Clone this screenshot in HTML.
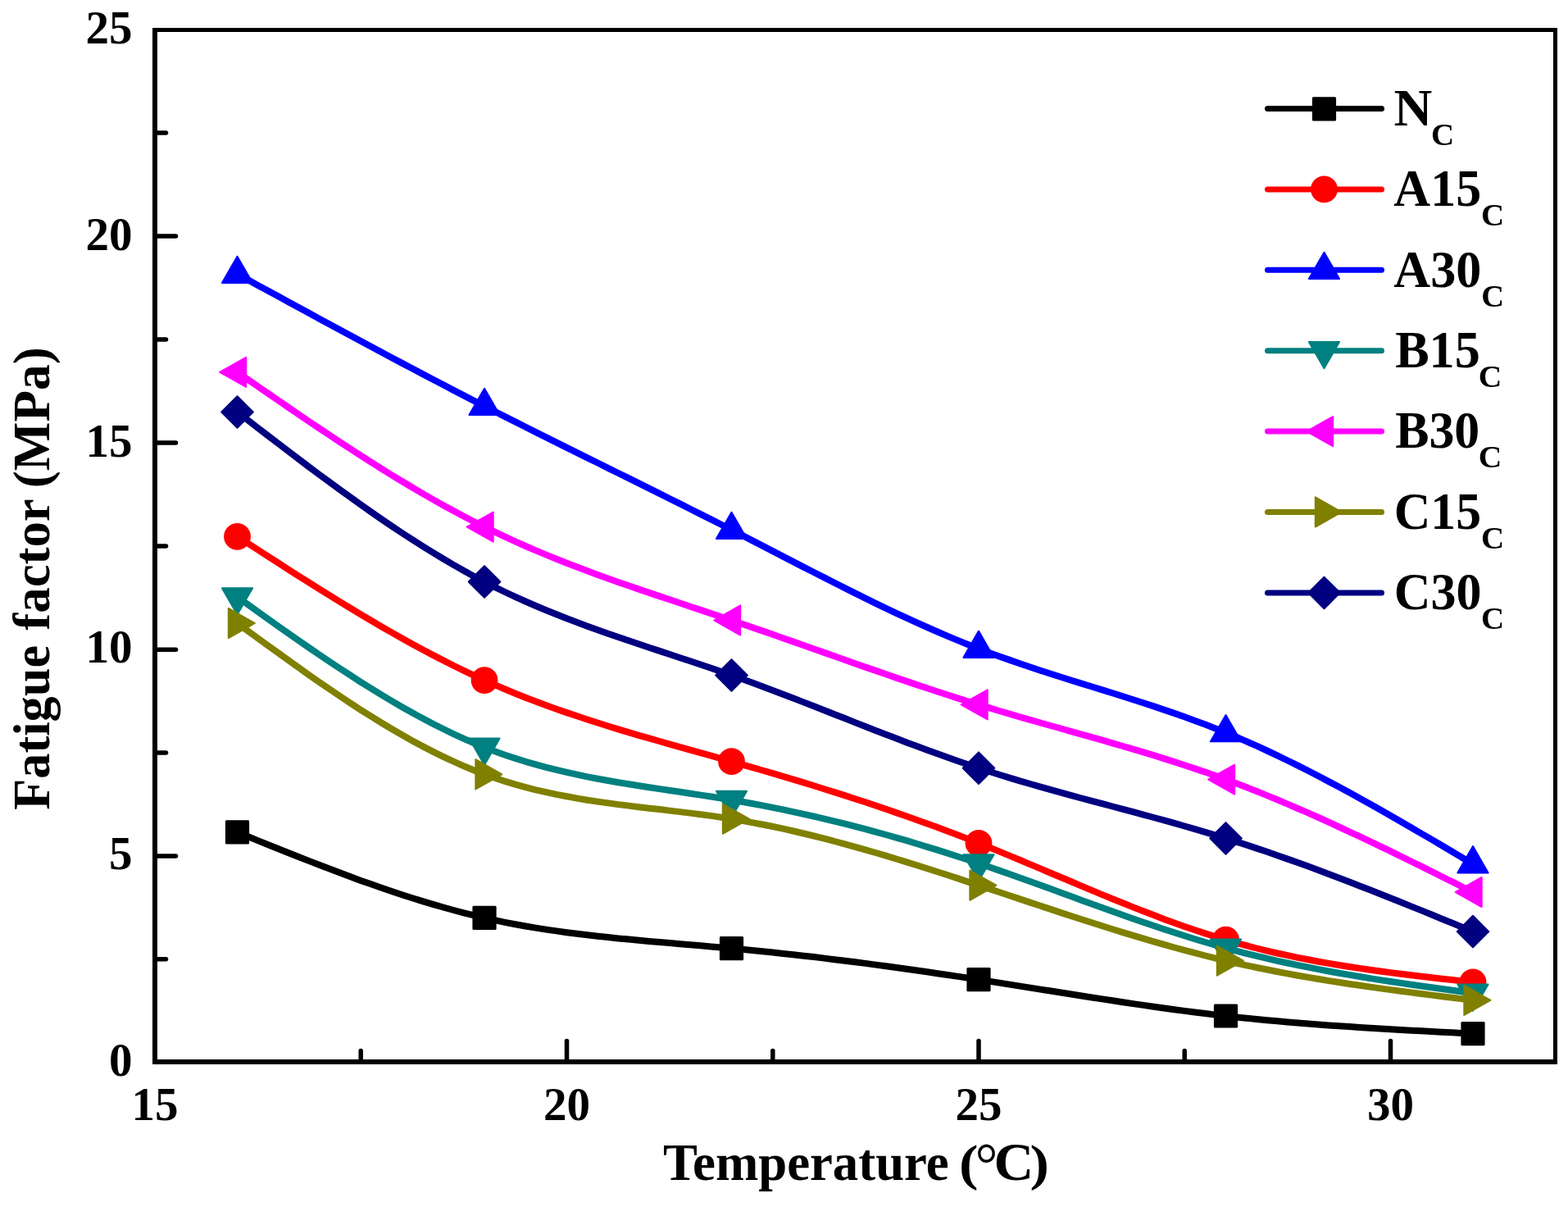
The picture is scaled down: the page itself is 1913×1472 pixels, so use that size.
<!DOCTYPE html>
<html lang="en"><head><meta charset="utf-8"><title>Fatigue factor vs Temperature</title>
<style>
html,body{margin:0;padding:0;background:#fff;}
body{width:1913px;height:1472px;overflow:hidden;}
svg{display:block;}
text{font-family:"Liberation Serif",serif;font-weight:bold;fill:#000;}
.tk{font-size:57px;}
.ti{font-size:64px;}
.lg{font-size:64px;}
.sub{font-size:38px;}
</style></head><body>
<svg width="1913" height="1472" viewBox="0 0 1913 1472">
<rect x="0" y="0" width="1913" height="1472" fill="#ffffff"/>

<g fill="none" stroke-linecap="round" stroke-linejoin="round">
<g><path d="M289.5 1014.9 L302.1 1020.0 L314.6 1025.1 L327.2 1030.2 L339.8 1035.2 L352.3 1040.2 L364.9 1045.2 L377.4 1050.1 L390.0 1055.0 L402.6 1059.8 L415.1 1064.6 L427.7 1069.3 L440.2 1073.9 L452.8 1078.3 L465.4 1082.7 L477.9 1087.0 L490.5 1091.2 L503.1 1095.2 L515.6 1099.1 L528.2 1102.9 L540.8 1106.5 L553.3 1110.0 L565.9 1113.3 L578.4 1116.4 L591.0 1119.4 L603.6 1122.2 L616.1 1124.8 L628.7 1127.2 L641.2 1129.5 L653.8 1131.6 L666.4 1133.6 L678.9 1135.4 L691.5 1137.2 L704.1 1138.8 L716.6 1140.3 L729.2 1141.8 L741.8 1143.1 L754.3 1144.4 L766.9 1145.6 L779.4 1146.8 L792.0 1147.9 L804.6 1149.0 L817.1 1150.1 L829.7 1151.2 L842.2 1152.2 L854.8 1153.3 L867.4 1154.4 L879.9 1155.5 L892.5 1156.6 L905.1 1157.8 L917.6 1159.0 L930.2 1160.3 L942.8 1161.6 L955.3 1162.9 L967.9 1164.3 L980.4 1165.7 L993.0 1167.1 L1005.6 1168.6 L1018.1 1170.2 L1030.7 1171.7 L1043.2 1173.3 L1055.8 1174.9 L1068.4 1176.6 L1080.9 1178.3 L1093.5 1180.0 L1106.1 1181.7 L1118.6 1183.5 L1131.2 1185.3 L1143.8 1187.2 L1156.3 1189.0 L1168.9 1190.9 L1181.4 1192.8 L1194.0 1194.7 L1206.6 1196.6 L1219.1 1198.6 L1231.7 1200.6 L1244.2 1202.6 L1256.8 1204.6 L1269.4 1206.6 L1281.9 1208.5 L1294.5 1210.5 L1307.1 1212.5 L1319.6 1214.5 L1332.2 1216.5 L1344.8 1218.4 L1357.3 1220.3 L1369.9 1222.2 L1382.4 1224.1 L1395.0 1225.9 L1407.6 1227.7 L1420.1 1229.5 L1432.7 1231.2 L1445.2 1232.9 L1457.8 1234.5 L1470.4 1236.0 L1482.9 1237.6 L1495.5 1239.0 L1508.1 1240.4 L1520.6 1241.7 L1533.2 1243.0 L1545.8 1244.2 L1558.3 1245.3 L1570.9 1246.4 L1583.4 1247.5 L1596.0 1248.5 L1608.6 1249.5 L1621.1 1250.4 L1633.7 1251.3 L1646.2 1252.1 L1658.8 1252.9 L1671.4 1253.7 L1683.9 1254.5 L1696.5 1255.2 L1709.1 1256.0 L1721.6 1256.7 L1734.2 1257.3 L1746.8 1258.0 L1759.3 1258.7 L1771.9 1259.3 L1784.4 1260.0 L1797.0 1260.6" stroke="#000000" stroke-width="8.0" fill="none"/>
<rect x="274.9" y="1000.3" width="29.2" height="29.2" rx="1.5" fill="#000000"/>
<rect x="576.4" y="1104.8" width="29.2" height="29.2" rx="1.5" fill="#000000"/>
<rect x="877.9" y="1142.0" width="29.2" height="29.2" rx="1.5" fill="#000000"/>
<rect x="1179.4" y="1180.1" width="29.2" height="29.2" rx="1.5" fill="#000000"/>
<rect x="1480.9" y="1224.4" width="29.2" height="29.2" rx="1.5" fill="#000000"/>
<rect x="1782.4" y="1246.0" width="29.2" height="29.2" rx="1.5" fill="#000000"/>
</g>
<g><path d="M289.5 654.3 L302.1 662.4 L314.6 670.5 L327.2 678.6 L339.8 686.7 L352.3 694.8 L364.9 702.8 L377.4 710.7 L390.0 718.6 L402.6 726.4 L415.1 734.2 L427.7 741.8 L440.2 749.4 L452.8 756.8 L465.4 764.2 L477.9 771.4 L490.5 778.5 L503.1 785.5 L515.6 792.3 L528.2 798.9 L540.8 805.4 L553.3 811.7 L565.9 817.9 L578.4 823.8 L591.0 829.6 L603.6 835.2 L616.1 840.5 L628.7 845.7 L641.2 850.7 L653.8 855.5 L666.4 860.2 L678.9 864.7 L691.5 869.1 L704.1 873.3 L716.6 877.5 L729.2 881.5 L741.8 885.5 L754.3 889.3 L766.9 893.1 L779.4 896.8 L792.0 900.4 L804.6 904.0 L817.1 907.6 L829.7 911.1 L842.2 914.6 L854.8 918.1 L867.4 921.6 L879.9 925.2 L892.5 928.7 L905.1 932.3 L917.6 935.9 L930.2 939.5 L942.8 943.2 L955.3 946.9 L967.9 950.6 L980.4 954.4 L993.0 958.3 L1005.6 962.2 L1018.1 966.1 L1030.7 970.1 L1043.2 974.2 L1055.8 978.3 L1068.4 982.5 L1080.9 986.8 L1093.5 991.1 L1106.1 995.5 L1118.6 999.9 L1131.2 1004.4 L1143.8 1009.1 L1156.3 1013.7 L1168.9 1018.5 L1181.4 1023.4 L1194.0 1028.3 L1206.6 1033.3 L1219.1 1038.4 L1231.7 1043.6 L1244.2 1048.8 L1256.8 1054.1 L1269.4 1059.4 L1281.9 1064.7 L1294.5 1070.0 L1307.1 1075.3 L1319.6 1080.6 L1332.2 1085.9 L1344.8 1091.1 L1357.3 1096.2 L1369.9 1101.3 L1382.4 1106.4 L1395.0 1111.3 L1407.6 1116.1 L1420.1 1120.9 L1432.7 1125.5 L1445.2 1129.9 L1457.8 1134.3 L1470.4 1138.4 L1482.9 1142.4 L1495.5 1146.2 L1508.1 1149.8 L1520.6 1153.2 L1533.2 1156.5 L1545.8 1159.6 L1558.3 1162.5 L1570.9 1165.2 L1583.4 1167.9 L1596.0 1170.3 L1608.6 1172.7 L1621.1 1174.9 L1633.7 1177.0 L1646.2 1179.0 L1658.8 1180.9 L1671.4 1182.7 L1683.9 1184.5 L1696.5 1186.1 L1709.1 1187.7 L1721.6 1189.3 L1734.2 1190.8 L1746.8 1192.2 L1759.3 1193.7 L1771.9 1195.0 L1784.4 1196.4 L1797.0 1197.8" stroke="#ff0000" stroke-width="8.0" fill="none"/>
<circle cx="289.5" cy="654.3" r="16.4" fill="#ff0000"/>
<circle cx="591.0" cy="829.6" r="16.4" fill="#ff0000"/>
<circle cx="892.5" cy="928.7" r="16.4" fill="#ff0000"/>
<circle cx="1194.0" cy="1028.3" r="16.4" fill="#ff0000"/>
<circle cx="1495.5" cy="1146.2" r="16.4" fill="#ff0000"/>
<circle cx="1797.0" cy="1197.8" r="16.4" fill="#ff0000"/>
</g>
<g><path d="M289.5 334.2 L302.1 341.1 L314.6 347.9 L327.2 354.8 L339.8 361.6 L352.3 368.4 L364.9 375.3 L377.4 382.1 L390.0 388.9 L402.6 395.7 L415.1 402.5 L427.7 409.3 L440.2 416.0 L452.8 422.8 L465.4 429.5 L477.9 436.2 L490.5 442.9 L503.1 449.5 L515.6 456.1 L528.2 462.7 L540.8 469.3 L553.3 475.9 L565.9 482.4 L578.4 488.9 L591.0 495.3 L603.6 501.7 L616.1 508.1 L628.7 514.4 L641.2 520.8 L653.8 527.1 L666.4 533.3 L678.9 539.6 L691.5 545.9 L704.1 552.1 L716.6 558.3 L729.2 564.5 L741.8 570.8 L754.3 577.0 L766.9 583.2 L779.4 589.4 L792.0 595.7 L804.6 601.9 L817.1 608.2 L829.7 614.4 L842.2 620.7 L854.8 627.1 L867.4 633.4 L879.9 639.8 L892.5 646.2 L905.1 652.6 L917.6 659.1 L930.2 665.6 L942.8 672.1 L955.3 678.6 L967.9 685.1 L980.4 691.6 L993.0 698.0 L1005.6 704.4 L1018.1 710.8 L1030.7 717.1 L1043.2 723.4 L1055.8 729.6 L1068.4 735.8 L1080.9 741.8 L1093.5 747.8 L1106.1 753.6 L1118.6 759.4 L1131.2 765.0 L1143.8 770.5 L1156.3 775.9 L1168.9 781.1 L1181.4 786.2 L1194.0 791.1 L1206.6 795.9 L1219.1 800.5 L1231.7 804.9 L1244.2 809.3 L1256.8 813.5 L1269.4 817.7 L1281.9 821.7 L1294.5 825.7 L1307.1 829.7 L1319.6 833.6 L1332.2 837.5 L1344.8 841.4 L1357.3 845.3 L1369.9 849.3 L1382.4 853.3 L1395.0 857.3 L1407.6 861.4 L1420.1 865.6 L1432.7 869.9 L1445.2 874.3 L1457.8 878.9 L1470.4 883.6 L1482.9 888.5 L1495.5 893.5 L1508.1 898.7 L1520.6 904.1 L1533.2 909.7 L1545.8 915.5 L1558.3 921.4 L1570.9 927.5 L1583.4 933.7 L1596.0 940.0 L1608.6 946.5 L1621.1 953.1 L1633.7 959.8 L1646.2 966.6 L1658.8 973.5 L1671.4 980.5 L1683.9 987.6 L1696.5 994.8 L1709.1 1002.0 L1721.6 1009.3 L1734.2 1016.6 L1746.8 1023.9 L1759.3 1031.3 L1771.9 1038.7 L1784.4 1046.2 L1797.0 1053.6" stroke="#0000ff" stroke-width="8.0" fill="none"/>
<polygon points="289.5,312.7 270.9,345.0 308.1,345.0" fill="#0000ff" stroke="#0000ff" stroke-width="2" stroke-linejoin="round"/>
<polygon points="591.0,473.8 572.4,506.1 609.6,506.1" fill="#0000ff" stroke="#0000ff" stroke-width="2" stroke-linejoin="round"/>
<polygon points="892.5,624.7 873.9,657.0 911.1,657.0" fill="#0000ff" stroke="#0000ff" stroke-width="2" stroke-linejoin="round"/>
<polygon points="1194.0,769.6 1175.4,801.9 1212.6,801.9" fill="#0000ff" stroke="#0000ff" stroke-width="2" stroke-linejoin="round"/>
<polygon points="1495.5,872.0 1476.9,904.3 1514.1,904.3" fill="#0000ff" stroke="#0000ff" stroke-width="2" stroke-linejoin="round"/>
<polygon points="1797.0,1032.1 1778.4,1064.4 1815.6,1064.4" fill="#0000ff" stroke="#0000ff" stroke-width="2" stroke-linejoin="round"/>
</g>
<g><path d="M289.5 728.1 L302.1 737.1 L314.6 746.0 L327.2 755.0 L339.8 763.9 L352.3 772.7 L364.9 781.5 L377.4 790.1 L390.0 798.7 L402.6 807.2 L415.1 815.5 L427.7 823.7 L440.2 831.8 L452.8 839.7 L465.4 847.4 L477.9 854.9 L490.5 862.2 L503.1 869.3 L515.6 876.1 L528.2 882.7 L540.8 889.0 L553.3 895.1 L565.9 900.8 L578.4 906.3 L591.0 911.4 L603.6 916.2 L616.1 920.7 L628.7 924.9 L641.2 928.8 L653.8 932.4 L666.4 935.8 L678.9 938.9 L691.5 941.9 L704.1 944.7 L716.6 947.3 L729.2 949.7 L741.8 952.0 L754.3 954.2 L766.9 956.3 L779.4 958.3 L792.0 960.2 L804.6 962.1 L817.1 964.0 L829.7 965.8 L842.2 967.7 L854.8 969.6 L867.4 971.5 L879.9 973.5 L892.5 975.6 L905.1 977.8 L917.6 980.0 L930.2 982.4 L942.8 984.9 L955.3 987.4 L967.9 990.1 L980.4 992.8 L993.0 995.7 L1005.6 998.6 L1018.1 1001.6 L1030.7 1004.7 L1043.2 1007.9 L1055.8 1011.2 L1068.4 1014.6 L1080.9 1018.0 L1093.5 1021.6 L1106.1 1025.2 L1118.6 1029.0 L1131.2 1032.8 L1143.8 1036.6 L1156.3 1040.6 L1168.9 1044.7 L1181.4 1048.8 L1194.0 1053.0 L1206.6 1057.3 L1219.1 1061.6 L1231.7 1066.1 L1244.2 1070.5 L1256.8 1075.0 L1269.4 1079.6 L1281.9 1084.1 L1294.5 1088.7 L1307.1 1093.3 L1319.6 1097.9 L1332.2 1102.4 L1344.8 1107.0 L1357.3 1111.5 L1369.9 1116.0 L1382.4 1120.4 L1395.0 1124.7 L1407.6 1129.0 L1420.1 1133.2 L1432.7 1137.3 L1445.2 1141.3 L1457.8 1145.2 L1470.4 1149.0 L1482.9 1152.7 L1495.5 1156.2 L1508.1 1159.6 L1520.6 1162.8 L1533.2 1165.9 L1545.8 1168.9 L1558.3 1171.8 L1570.9 1174.5 L1583.4 1177.2 L1596.0 1179.7 L1608.6 1182.1 L1621.1 1184.5 L1633.7 1186.7 L1646.2 1188.9 L1658.8 1191.0 L1671.4 1193.1 L1683.9 1195.1 L1696.5 1197.0 L1709.1 1198.9 L1721.6 1200.7 L1734.2 1202.5 L1746.8 1204.3 L1759.3 1206.0 L1771.9 1207.8 L1784.4 1209.5 L1797.0 1211.2" stroke="#008080" stroke-width="8.0" fill="none"/>
<polygon points="289.5,749.6 270.9,717.3 308.1,717.3" fill="#008080" stroke="#008080" stroke-width="2" stroke-linejoin="round"/>
<polygon points="591.0,932.9 572.4,900.6 609.6,900.6" fill="#008080" stroke="#008080" stroke-width="2" stroke-linejoin="round"/>
<polygon points="892.5,997.1 873.9,964.8 911.1,964.8" fill="#008080" stroke="#008080" stroke-width="2" stroke-linejoin="round"/>
<polygon points="1194.0,1074.5 1175.4,1042.2 1212.6,1042.2" fill="#008080" stroke="#008080" stroke-width="2" stroke-linejoin="round"/>
<polygon points="1495.5,1177.7 1476.9,1145.4 1514.1,1145.4" fill="#008080" stroke="#008080" stroke-width="2" stroke-linejoin="round"/>
<polygon points="1797.0,1232.7 1778.4,1200.4 1815.6,1200.4" fill="#008080" stroke="#008080" stroke-width="2" stroke-linejoin="round"/>
</g>
<g><path d="M289.5 453.9 L302.1 462.6 L314.6 471.3 L327.2 479.9 L339.8 488.5 L352.3 497.1 L364.9 505.7 L377.4 514.2 L390.0 522.6 L402.6 531.0 L415.1 539.3 L427.7 547.5 L440.2 555.6 L452.8 563.7 L465.4 571.6 L477.9 579.3 L490.5 587.0 L503.1 594.5 L515.6 601.9 L528.2 609.1 L540.8 616.2 L553.3 623.1 L565.9 629.8 L578.4 636.3 L591.0 642.6 L603.6 648.7 L616.1 654.6 L628.7 660.4 L641.2 666.0 L653.8 671.4 L666.4 676.6 L678.9 681.7 L691.5 686.7 L704.1 691.5 L716.6 696.3 L729.2 700.9 L741.8 705.4 L754.3 709.9 L766.9 714.3 L779.4 718.6 L792.0 722.9 L804.6 727.1 L817.1 731.3 L829.7 735.5 L842.2 739.7 L854.8 743.9 L867.4 748.1 L879.9 752.3 L892.5 756.5 L905.1 760.8 L917.6 765.1 L930.2 769.4 L942.8 773.8 L955.3 778.2 L967.9 782.6 L980.4 787.0 L993.0 791.5 L1005.6 795.9 L1018.1 800.3 L1030.7 804.8 L1043.2 809.2 L1055.8 813.6 L1068.4 817.9 L1080.9 822.3 L1093.5 826.6 L1106.1 830.9 L1118.6 835.1 L1131.2 839.3 L1143.8 843.5 L1156.3 847.5 L1168.9 851.6 L1181.4 855.5 L1194.0 859.4 L1206.6 863.2 L1219.1 867.0 L1231.7 870.6 L1244.2 874.3 L1256.8 877.9 L1269.4 881.5 L1281.9 885.0 L1294.5 888.5 L1307.1 892.1 L1319.6 895.6 L1332.2 899.1 L1344.8 902.7 L1357.3 906.3 L1369.9 910.0 L1382.4 913.7 L1395.0 917.4 L1407.6 921.2 L1420.1 925.1 L1432.7 929.1 L1445.2 933.2 L1457.8 937.4 L1470.4 941.6 L1482.9 946.1 L1495.5 950.6 L1508.1 955.3 L1520.6 960.1 L1533.2 965.0 L1545.8 970.1 L1558.3 975.3 L1570.9 980.6 L1583.4 986.0 L1596.0 991.4 L1608.6 997.0 L1621.1 1002.7 L1633.7 1008.5 L1646.2 1014.3 L1658.8 1020.2 L1671.4 1026.1 L1683.9 1032.2 L1696.5 1038.2 L1709.1 1044.4 L1721.6 1050.5 L1734.2 1056.7 L1746.8 1062.9 L1759.3 1069.2 L1771.9 1075.4 L1784.4 1081.7 L1797.0 1088.0" stroke="#ff00ff" stroke-width="8.0" fill="none"/>
<polygon points="268.1,453.9 300.2,435.8 300.2,472.0" fill="#ff00ff" stroke="#ff00ff" stroke-width="2" stroke-linejoin="round"/>
<polygon points="569.6,642.6 601.7,624.5 601.7,660.7" fill="#ff00ff" stroke="#ff00ff" stroke-width="2" stroke-linejoin="round"/>
<polygon points="871.1,756.5 903.2,738.4 903.2,774.6" fill="#ff00ff" stroke="#ff00ff" stroke-width="2" stroke-linejoin="round"/>
<polygon points="1172.6,859.4 1204.7,841.3 1204.7,877.5" fill="#ff00ff" stroke="#ff00ff" stroke-width="2" stroke-linejoin="round"/>
<polygon points="1474.1,950.6 1506.2,932.5 1506.2,968.7" fill="#ff00ff" stroke="#ff00ff" stroke-width="2" stroke-linejoin="round"/>
<polygon points="1775.6,1088.0 1807.7,1069.9 1807.7,1106.1" fill="#ff00ff" stroke="#ff00ff" stroke-width="2" stroke-linejoin="round"/>
</g>
<g><path d="M289.5 760.0 L302.1 769.2 L314.6 778.4 L327.2 787.5 L339.8 796.6 L352.3 805.6 L364.9 814.6 L377.4 823.4 L390.0 832.2 L402.6 840.8 L415.1 849.3 L427.7 857.6 L440.2 865.8 L452.8 873.7 L465.4 881.5 L477.9 889.0 L490.5 896.3 L503.1 903.4 L515.6 910.1 L528.2 916.6 L540.8 922.8 L553.3 928.7 L565.9 934.3 L578.4 939.5 L591.0 944.3 L603.6 948.8 L616.1 952.9 L628.7 956.7 L641.2 960.1 L653.8 963.3 L666.4 966.2 L678.9 968.9 L691.5 971.3 L704.1 973.6 L716.6 975.7 L729.2 977.6 L741.8 979.4 L754.3 981.1 L766.9 982.6 L779.4 984.2 L792.0 985.7 L804.6 987.1 L817.1 988.6 L829.7 990.1 L842.2 991.6 L854.8 993.2 L867.4 994.9 L879.9 996.7 L892.5 998.7 L905.1 1000.8 L917.6 1003.1 L930.2 1005.5 L942.8 1008.0 L955.3 1010.7 L967.9 1013.5 L980.4 1016.5 L993.0 1019.5 L1005.6 1022.7 L1018.1 1026.0 L1030.7 1029.3 L1043.2 1032.8 L1055.8 1036.4 L1068.4 1040.0 L1080.9 1043.7 L1093.5 1047.5 L1106.1 1051.4 L1118.6 1055.3 L1131.2 1059.3 L1143.8 1063.3 L1156.3 1067.3 L1168.9 1071.4 L1181.4 1075.6 L1194.0 1079.7 L1206.6 1083.9 L1219.1 1088.0 L1231.7 1092.2 L1244.2 1096.4 L1256.8 1100.6 L1269.4 1104.8 L1281.9 1108.9 L1294.5 1113.1 L1307.1 1117.2 L1319.6 1121.2 L1332.2 1125.3 L1344.8 1129.3 L1357.3 1133.2 L1369.9 1137.1 L1382.4 1140.9 L1395.0 1144.7 L1407.6 1148.3 L1420.1 1151.9 L1432.7 1155.5 L1445.2 1158.9 L1457.8 1162.2 L1470.4 1165.5 L1482.9 1168.6 L1495.5 1171.6 L1508.1 1174.5 L1520.6 1177.3 L1533.2 1180.0 L1545.8 1182.5 L1558.3 1185.0 L1570.9 1187.4 L1583.4 1189.7 L1596.0 1191.9 L1608.6 1194.0 L1621.1 1196.1 L1633.7 1198.0 L1646.2 1200.0 L1658.8 1201.8 L1671.4 1203.6 L1683.9 1205.4 L1696.5 1207.1 L1709.1 1208.8 L1721.6 1210.4 L1734.2 1212.0 L1746.8 1213.6 L1759.3 1215.2 L1771.9 1216.7 L1784.4 1218.3 L1797.0 1219.8" stroke="#808000" stroke-width="8.0" fill="none"/>
<polygon points="310.9,760.0 278.8,741.9 278.8,778.1" fill="#808000" stroke="#808000" stroke-width="2" stroke-linejoin="round"/>
<polygon points="612.4,944.3 580.3,926.2 580.3,962.4" fill="#808000" stroke="#808000" stroke-width="2" stroke-linejoin="round"/>
<polygon points="913.9,998.7 881.8,980.6 881.8,1016.8" fill="#808000" stroke="#808000" stroke-width="2" stroke-linejoin="round"/>
<polygon points="1215.4,1079.7 1183.3,1061.6 1183.3,1097.8" fill="#808000" stroke="#808000" stroke-width="2" stroke-linejoin="round"/>
<polygon points="1516.9,1171.6 1484.8,1153.5 1484.8,1189.7" fill="#808000" stroke="#808000" stroke-width="2" stroke-linejoin="round"/>
<polygon points="1818.4,1219.8 1786.3,1201.7 1786.3,1237.9" fill="#808000" stroke="#808000" stroke-width="2" stroke-linejoin="round"/>
</g>
<g><path d="M289.5 502.5 L302.1 512.2 L314.6 521.9 L327.2 531.5 L339.8 541.1 L352.3 550.7 L364.9 560.2 L377.4 569.7 L390.0 579.1 L402.6 588.3 L415.1 597.5 L427.7 606.6 L440.2 615.6 L452.8 624.4 L465.4 633.1 L477.9 641.6 L490.5 650.0 L503.1 658.1 L515.6 666.1 L528.2 673.9 L540.8 681.5 L553.3 688.9 L565.9 696.0 L578.4 702.9 L591.0 709.5 L603.6 715.9 L616.1 722.0 L628.7 727.9 L641.2 733.5 L653.8 739.0 L666.4 744.2 L678.9 749.3 L691.5 754.3 L704.1 759.0 L716.6 763.7 L729.2 768.2 L741.8 772.7 L754.3 777.0 L766.9 781.3 L779.4 785.5 L792.0 789.7 L804.6 793.9 L817.1 798.0 L829.7 802.2 L842.2 806.3 L854.8 810.5 L867.4 814.8 L879.9 819.1 L892.5 823.5 L905.1 828.0 L917.6 832.6 L930.2 837.2 L942.8 841.9 L955.3 846.7 L967.9 851.5 L980.4 856.4 L993.0 861.3 L1005.6 866.2 L1018.1 871.2 L1030.7 876.1 L1043.2 881.1 L1055.8 886.0 L1068.4 890.9 L1080.9 895.7 L1093.5 900.6 L1106.1 905.4 L1118.6 910.1 L1131.2 914.7 L1143.8 919.3 L1156.3 923.8 L1168.9 928.2 L1181.4 932.5 L1194.0 936.7 L1206.6 940.8 L1219.1 944.7 L1231.7 948.6 L1244.2 952.3 L1256.8 956.0 L1269.4 959.6 L1281.9 963.2 L1294.5 966.6 L1307.1 970.1 L1319.6 973.5 L1332.2 976.8 L1344.8 980.2 L1357.3 983.5 L1369.9 986.9 L1382.4 990.2 L1395.0 993.6 L1407.6 997.0 L1420.1 1000.4 L1432.7 1003.9 L1445.2 1007.5 L1457.8 1011.1 L1470.4 1014.8 L1482.9 1018.5 L1495.5 1022.4 L1508.1 1026.4 L1520.6 1030.4 L1533.2 1034.6 L1545.8 1038.8 L1558.3 1043.2 L1570.9 1047.6 L1583.4 1052.1 L1596.0 1056.6 L1608.6 1061.3 L1621.1 1066.0 L1633.7 1070.7 L1646.2 1075.5 L1658.8 1080.4 L1671.4 1085.3 L1683.9 1090.3 L1696.5 1095.3 L1709.1 1100.3 L1721.6 1105.4 L1734.2 1110.4 L1746.8 1115.5 L1759.3 1120.7 L1771.9 1125.8 L1784.4 1131.0 L1797.0 1136.1" stroke="#000080" stroke-width="8.0" fill="none"/>
<polygon points="289.5,483.2 308.8,502.5 289.5,521.8 270.2,502.5" fill="#000080" stroke="#000080" stroke-width="2" stroke-linejoin="round"/>
<polygon points="591.0,690.2 610.3,709.5 591.0,728.8 571.7,709.5" fill="#000080" stroke="#000080" stroke-width="2" stroke-linejoin="round"/>
<polygon points="892.5,804.2 911.8,823.5 892.5,842.8 873.2,823.5" fill="#000080" stroke="#000080" stroke-width="2" stroke-linejoin="round"/>
<polygon points="1194.0,917.4 1213.3,936.7 1194.0,956.0 1174.7,936.7" fill="#000080" stroke="#000080" stroke-width="2" stroke-linejoin="round"/>
<polygon points="1495.5,1003.1 1514.8,1022.4 1495.5,1041.7 1476.2,1022.4" fill="#000080" stroke="#000080" stroke-width="2" stroke-linejoin="round"/>
<polygon points="1797.0,1116.8 1816.3,1136.1 1797.0,1155.4 1777.7,1136.1" fill="#000080" stroke="#000080" stroke-width="2" stroke-linejoin="round"/>
</g>
</g>
<g fill="#000"><rect x="186" y="34" width="6" height="1264"/><rect x="1895" y="34" width="5" height="1264"/><rect x="186" y="34" width="1714" height="5"/><rect x="186" y="1292" width="1714" height="6"/></g>
<g stroke="#000" stroke-width="5.5" stroke-linecap="round">
<line x1="189.0" y1="1044.0" x2="214.5" y2="1044.0"/>
<line x1="189.0" y1="792.2" x2="214.5" y2="792.2"/>
<line x1="189.0" y1="539.9" x2="214.5" y2="539.9"/>
<line x1="189.0" y1="287.9" x2="214.5" y2="287.9"/>
<line x1="189.0" y1="1169.8" x2="202.5" y2="1169.8"/>
<line x1="189.0" y1="918.1" x2="202.5" y2="918.1"/>
<line x1="189.0" y1="666.0" x2="202.5" y2="666.0"/>
<line x1="189.0" y1="413.9" x2="202.5" y2="413.9"/>
<line x1="189.0" y1="162.0" x2="202.5" y2="162.0"/>
<line x1="691.5" y1="1295.0" x2="691.5" y2="1269.5"/>
<line x1="1194.0" y1="1295.0" x2="1194.0" y2="1269.5"/>
<line x1="1696.5" y1="1295.0" x2="1696.5" y2="1269.5"/>
<line x1="440.2" y1="1295.0" x2="440.2" y2="1281.5"/>
<line x1="942.8" y1="1295.0" x2="942.8" y2="1281.5"/>
<line x1="1445.2" y1="1295.0" x2="1445.2" y2="1281.5"/>
</g>
<g class="tk">
<text class="tk" x="161.6" y="1311.6" text-anchor="end">0</text>
<text class="tk" x="161.6" y="1059.9" text-anchor="end">5</text>
<text class="tk" x="161.6" y="808.2" text-anchor="end">10</text>
<text class="tk" x="161.6" y="556.5" text-anchor="end">15</text>
<text class="tk" x="161.6" y="304.8" text-anchor="end">20</text>
<text class="tk" x="161.6" y="53.1" text-anchor="end">25</text>
<text class="tk" x="189.0" y="1366.4" text-anchor="middle">15</text>
<text class="tk" x="691.5" y="1366.4" text-anchor="middle">20</text>
<text class="tk" x="1194.0" y="1366.4" text-anchor="middle">25</text>
<text class="tk" x="1696.5" y="1366.4" text-anchor="middle">30</text>
</g>
<text class="ti"><tspan x="808.92" y="1438.90" textLength="348.80" lengthAdjust="spacingAndGlyphs" style="font-size:64px">Temperature</tspan><tspan> </tspan><tspan x="1169.97" y="1439.10" textLength="23.49" lengthAdjust="spacingAndGlyphs" style="font-size:62px">(</tspan><tspan x="1189.85" y="1445.40" textLength="27.49" lengthAdjust="spacingAndGlyphs" style="font-size:74px;font-weight:normal">°</tspan><tspan x="1212.48" y="1439.30" textLength="48.75" lengthAdjust="spacingAndGlyphs" style="font-size:66px">C</tspan><tspan x="1256.62" y="1439.10" textLength="23.49" lengthAdjust="spacingAndGlyphs" style="font-size:62px">)</tspan></text>
<text class="ti" transform="translate(60.1,986.8) rotate(-90)"><tspan x="-0.97" y="0.00" textLength="200.82" lengthAdjust="spacingAndGlyphs" style="font-size:64px">Fatigue</tspan><tspan> </tspan><tspan x="218.11" y="0.00" textLength="159.29" lengthAdjust="spacingAndGlyphs" style="font-size:64px">factor</tspan><tspan> </tspan><tspan x="391.58" y="0.00" textLength="171.95" lengthAdjust="spacingAndGlyphs" style="font-size:64px">(MPa)</tspan></text>
<g>
<line x1="1546.5" y1="132.5" x2="1685.5" y2="132.5" stroke="#000000" stroke-width="7" stroke-linecap="round"/>
<rect x="1600.9" y="118.3" width="29.2" height="29.2" rx="1.5" fill="#000000"/>
<text class="lg"><tspan x="1700.44" y="153.20" textLength="46.74" lengthAdjust="spacingAndGlyphs" style="font-size:64px">N</tspan><tspan x="1746.10" y="177.00" textLength="28.23" lengthAdjust="spacingAndGlyphs" style="font-size:38px">C</tspan></text>
<line x1="1546.5" y1="230.9" x2="1685.5" y2="230.9" stroke="#ff0000" stroke-width="7" stroke-linecap="round"/>
<circle cx="1615.5" cy="230.9" r="16.4" fill="#ff0000"/>
<text class="lg"><tspan x="1700.37" y="251.00" textLength="106.78" lengthAdjust="spacingAndGlyphs" style="font-size:64px">A15</tspan><tspan x="1807.00" y="275.40" textLength="28.23" lengthAdjust="spacingAndGlyphs" style="font-size:38px">C</tspan></text>
<line x1="1546.5" y1="329.3" x2="1685.5" y2="329.3" stroke="#0000ff" stroke-width="7" stroke-linecap="round"/>
<polygon points="1615.5,307.8 1596.9,340.1 1634.1,340.1" fill="#0000ff" stroke="#0000ff" stroke-width="2" stroke-linejoin="round"/>
<text class="lg"><tspan x="1700.37" y="349.50" textLength="107.03" lengthAdjust="spacingAndGlyphs" style="font-size:64px">A30</tspan><tspan x="1807.32" y="373.90" textLength="27.87" lengthAdjust="spacingAndGlyphs" style="font-size:38px">C</tspan></text>
<line x1="1546.5" y1="427.7" x2="1685.5" y2="427.7" stroke="#008080" stroke-width="7" stroke-linecap="round"/>
<polygon points="1615.5,449.2 1596.9,416.9 1634.1,416.9" fill="#008080" stroke="#008080" stroke-width="2" stroke-linejoin="round"/>
<text class="lg"><tspan x="1702.13" y="447.60" textLength="103.64" lengthAdjust="spacingAndGlyphs" style="font-size:64px">B15</tspan><tspan x="1803.88" y="472.20" textLength="28.59" lengthAdjust="spacingAndGlyphs" style="font-size:38px">C</tspan></text>
<line x1="1546.5" y1="526.1" x2="1685.5" y2="526.1" stroke="#ff00ff" stroke-width="7" stroke-linecap="round"/>
<polygon points="1594.1,526.1 1626.2,508.0 1626.2,544.2" fill="#ff00ff" stroke="#ff00ff" stroke-width="2" stroke-linejoin="round"/>
<text class="lg"><tspan x="1702.13" y="545.90" textLength="103.12" lengthAdjust="spacingAndGlyphs" style="font-size:64px">B30</tspan><tspan x="1803.88" y="570.40" textLength="28.59" lengthAdjust="spacingAndGlyphs" style="font-size:38px">C</tspan></text>
<line x1="1546.5" y1="624.5" x2="1685.5" y2="624.5" stroke="#808000" stroke-width="7" stroke-linecap="round"/>
<polygon points="1636.9,624.5 1604.8,606.4 1604.8,642.6" fill="#808000" stroke="#808000" stroke-width="2" stroke-linejoin="round"/>
<text class="lg"><tspan x="1700.66" y="644.80" textLength="106.48" lengthAdjust="spacingAndGlyphs" style="font-size:64px">C15</tspan><tspan x="1807.00" y="668.70" textLength="28.23" lengthAdjust="spacingAndGlyphs" style="font-size:38px">C</tspan></text>
<line x1="1546.5" y1="722.9" x2="1685.5" y2="722.9" stroke="#000080" stroke-width="7" stroke-linecap="round"/>
<polygon points="1615.5,703.6 1634.8,722.9 1615.5,742.2 1596.2,722.9" fill="#000080" stroke="#000080" stroke-width="2" stroke-linejoin="round"/>
<text class="lg"><tspan x="1700.65" y="742.50" textLength="106.74" lengthAdjust="spacingAndGlyphs" style="font-size:64px">C30</tspan><tspan x="1807.00" y="766.60" textLength="28.23" lengthAdjust="spacingAndGlyphs" style="font-size:38px">C</tspan></text>
</g>
</svg>
</body></html>
